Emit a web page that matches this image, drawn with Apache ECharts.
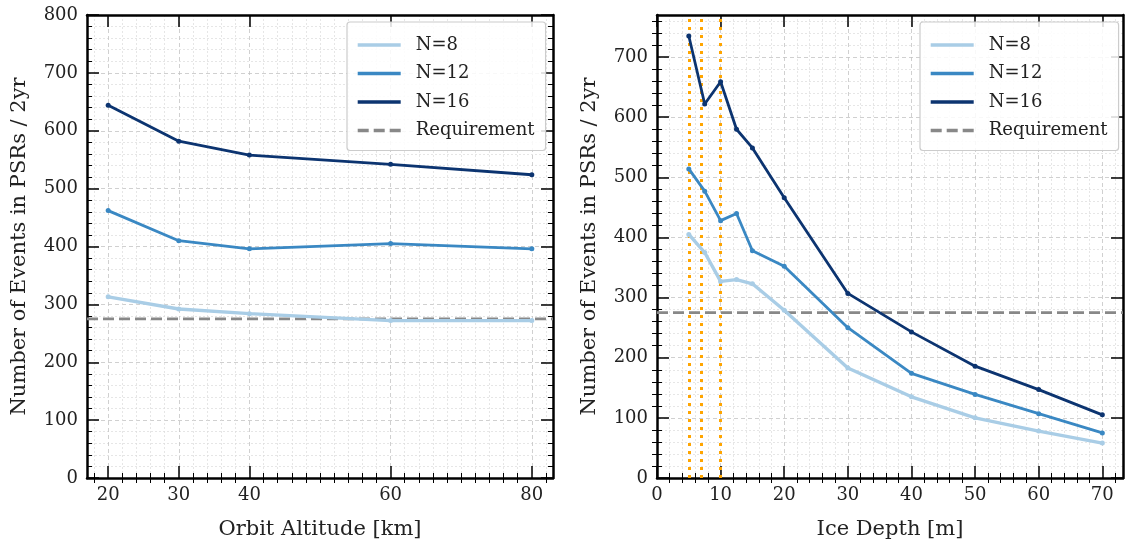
<!DOCTYPE html>
<html>
<head>
<meta charset="utf-8">
<script src="https://cdn.jsdelivr.net/npm/echarts@6/dist/echarts.min.js"></script>
<style>
html,body{margin:0;padding:0;background:#fff;}
#c{width:1126px;height:545px;}
</style>
</head>
<body>
<div id="c"></div>
<script>
// ---- data ----
var seriesNames = ['N=8', 'N=12', 'N=16'];
var requirementName = 'Requirement';
var requirement = 275;

// left: orbit altitude [km]
var altitudes = [20, 30, 40, 60, 80];
var altN8  = [313, 292, 284, 272, 272];
var altN12 = [462, 410, 396, 405, 396];
var altN16 = [644, 582, 558, 542, 524];
var altTicks = [20, 30, 40, 60, 80];

// right: ice depth [m]
var depths = [5, 7.5, 10, 12.5, 15, 20, 30, 40, 50, 60, 70];
var depN8  = [405, 375, 327, 330, 323, 279, 183, 135, 100, 78, 58];
var depN12 = [514, 477, 428, 440, 378, 352, 250, 174, 139, 107, 75];
var depN16 = [735, 622, 659, 580, 549, 466, 307, 243, 186, 147, 105];
var depthMarkers = [5, 7, 10];

// ---- style ----
var colors = ['#a9cde6', '#3a88c3', '#0c3470'];
var widths = [3.4, 2.8, 2.8];
var FONT = '"DejaVu Serif", "Liberation Serif", serif';
var TXT = '#222222';
var majorGrid = {show: true, lineStyle: {color: '#c4c4c4', type: [4, 3], width: 0.8}};
var minorGrid = {show: true, lineStyle: {color: '#dcdcdc', type: [2, 2], width: 0.7}};

function pairs(xs, ys) { return xs.map(function (x, i) { return [x, ys[i]]; }); }
function range(a, b, s) { var r = []; for (var v = a; v <= b + 1e-9; v += s) r.push(Math.round(v * 100) / 100); return r; }

var altMin = 17, altMax = 83;
var depMin = 0, depMax = 73.25;
var cntMaxL = 800, cntMaxR = 770;

function xAxes(grid, min, max, majors, minors, name) {
  var base = {type: 'value', gridIndex: grid, min: min, max: max, axisPointer: {show: false}};
  return [
    Object.assign({}, base, {
      position: 'bottom', name: name, nameLocation: 'middle', nameGap: 41,
      nameTextStyle: {fontFamily: FONT, fontSize: 21, color: TXT},
      axisLine: {show: true, onZero: false, lineStyle: {color: '#000', width: 2.5}},
      axisTick: {show: true, inside: true, length: 12, customValues: majors, lineStyle: {color: '#000', width: 1.5}},
      axisLabel: {show: true, customValues: majors, margin: 8, fontFamily: FONT, fontSize: 18, color: TXT},
      splitLine: majorGrid
    }),
    Object.assign({}, base, {
      position: 'bottom',
      axisLine: {show: false},
      axisTick: {show: true, inside: true, length: 5, customValues: minors, lineStyle: {color: '#000', width: 1}},
      axisLabel: {show: false},
      splitLine: minorGrid
    }),
    Object.assign({}, base, {
      position: 'top',
      axisLine: {show: true, onZero: false, lineStyle: {color: '#000', width: 2.5}},
      axisTick: {show: true, inside: true, length: 12, customValues: majors, lineStyle: {color: '#000', width: 1.5}},
      axisLabel: {show: false}, splitLine: {show: false}
    }),
    Object.assign({}, base, {
      position: 'top',
      axisLine: {show: false},
      axisTick: {show: true, inside: true, length: 5, customValues: minors, lineStyle: {color: '#000', width: 1}},
      axisLabel: {show: false}, splitLine: {show: false}
    })
  ];
}

function yAxes(grid, max, majors, minors, name) {
  var base = {type: 'value', gridIndex: grid, min: 0, max: max, axisPointer: {show: false}};
  return [
    Object.assign({}, base, {
      position: 'left', name: name, nameLocation: 'middle', nameGap: 57,
      nameTextStyle: {fontFamily: FONT, fontSize: 21, color: TXT},
      axisLine: {show: true, onZero: false, lineStyle: {color: '#000', width: 2.5}},
      axisTick: {show: true, inside: true, length: 12, customValues: majors, lineStyle: {color: '#000', width: 1.5}},
      axisLabel: {show: true, customValues: majors, margin: 9, fontFamily: FONT, fontSize: 18, color: TXT},
      splitLine: majorGrid
    }),
    Object.assign({}, base, {
      position: 'left',
      axisLine: {show: false},
      axisTick: {show: true, inside: true, length: 5, customValues: minors, lineStyle: {color: '#000', width: 1}},
      axisLabel: {show: false},
      splitLine: minorGrid
    }),
    Object.assign({}, base, {
      position: 'right',
      axisLine: {show: true, onZero: false, lineStyle: {color: '#000', width: 2.5}},
      axisTick: {show: true, inside: true, length: 12, customValues: majors, lineStyle: {color: '#000', width: 1.5}},
      axisLabel: {show: false}, splitLine: {show: false}
    }),
    Object.assign({}, base, {
      position: 'right',
      axisLine: {show: false},
      axisTick: {show: true, inside: true, length: 5, customValues: minors, lineStyle: {color: '#000', width: 1}},
      axisLabel: {show: false}, splitLine: {show: false}
    })
  ];
}

var yName = 'Number of Events in PSRs / 2yr';
var xAxis = [].concat(
  xAxes(0, altMin, altMax, altTicks, range(18, 82, 2).filter(function (v) { return altTicks.indexOf(v) < 0; }), 'Orbit Altitude [km]'),
  xAxes(1, depMin, depMax, range(0, 70, 10), range(2, 72, 2).filter(function (v) { return v % 10 !== 0; }), 'Ice Depth [m]')
);
var yAxis = [].concat(
  yAxes(0, cntMaxL, range(0, 800, 100), range(20, 780, 20).filter(function (v) { return v % 100 !== 0; }), yName),
  yAxes(1, cntMaxR, range(0, 700, 100), range(20, 760, 20).filter(function (v) { return v % 100 !== 0; }), yName)
);

function lineSeries(name, data, idx, gi) {
  return {
    type: 'line', name: name, data: data,
    xAxisIndex: gi * 4, yAxisIndex: gi * 4,
    symbol: 'circle', symbolSize: 5, showSymbol: true,
    lineStyle: {color: colors[idx], width: widths[idx]},
    itemStyle: {color: colors[idx]},
    emphasis: {disabled: true}, z: 5 + idx, animation: false
  };
}

var series = [];
var leftSets = [altN8, altN12, altN16];
var rightSets = [depN8, depN12, depN16];
seriesNames.forEach(function (n, i) {
  series.push(lineSeries(n, pairs(altitudes, leftSets[i]), i, 0));
});
series.push({
  type: 'line', name: requirementName, xAxisIndex: 0, yAxisIndex: 0,
  data: [[altMin, requirement], [altMax, requirement]], symbol: 'none',
  lineStyle: {color: '#888888', width: 2.8, type: [11, 5]}, itemStyle: {color: '#888888'},
  z: 4, animation: false
});
seriesNames.forEach(function (n, i) {
  series.push(lineSeries(n, pairs(depths, rightSets[i]), i, 1));
});
series.push({
  type: 'line', name: requirementName, xAxisIndex: 4, yAxisIndex: 4,
  data: [[depMin, requirement], [depMax, requirement]], symbol: 'none',
  lineStyle: {color: '#888888', width: 2.8, type: [11, 5]}, itemStyle: {color: '#888888'},
  z: 4, animation: false,
  markLine: {
    silent: true, symbol: 'none', label: {show: false}, animation: false,
    lineStyle: {color: '#ffa500', width: 3, type: [3, 5]},
    data: depthMarkers.map(function (v) { return {xAxis: v}; })
  }
});

function legend(left) {
  return {
    data: seriesNames.concat([requirementName]), orient: 'vertical',
    left: left, top: 22, itemWidth: 43, itemHeight: 12, itemGap: 10.5,
    padding: [14, 11, 11, 9],
    backgroundColor: 'rgba(255,255,255,0.85)', borderColor: '#cccccc', borderWidth: 1.2, borderRadius: 3,
    textStyle: {fontFamily: FONT, fontSize: 18, color: TXT, padding: [0, 0, 0, 10]},
    itemStyle: {opacity: 0},
    lineStyle: {width: 3.4},
    selectedMode: false
  };
}

var chart = echarts.init(document.getElementById('c'), null, {renderer: 'canvas'});
chart.setOption({
  animation: false,
  backgroundColor: '#fff',
  grid: [
    {left: 87, right: 573, top: 15, bottom: 67},
    {left: 657, right: 3, top: 15, bottom: 67}
  ],
  xAxis: xAxis,
  yAxis: yAxis,
  legend: [legend(347), legend(920)],
  series: series
});
</script>
</body>
</html>
